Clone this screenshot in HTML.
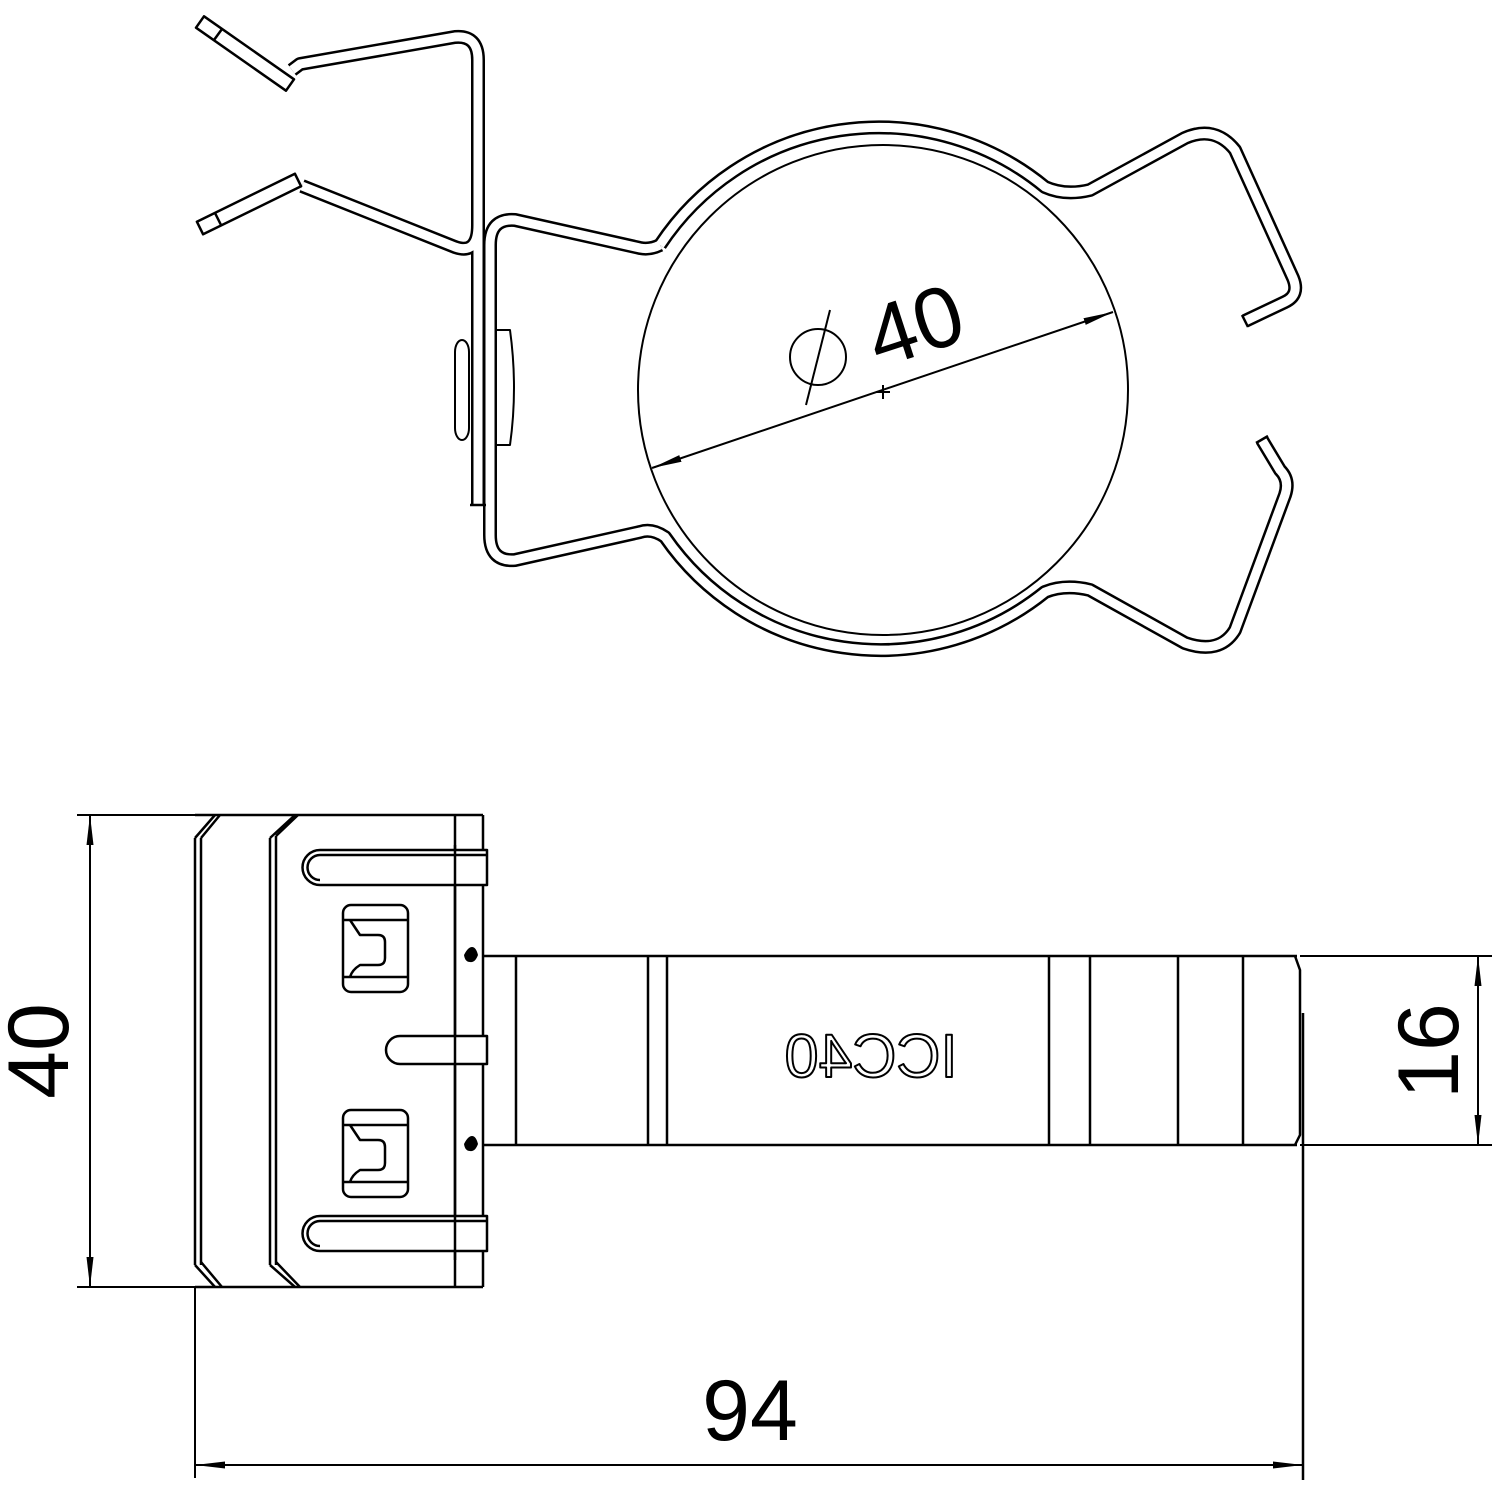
<!DOCTYPE html>
<html><head><meta charset="utf-8"><style>html,body{margin:0;padding:0;background:#fff}svg{display:block}</style></head>
<body>
<svg width="1500" height="1500" viewBox="0 0 1500 1500" xmlns="http://www.w3.org/2000/svg" font-family="Liberation Sans, sans-serif">
<defs>
<marker id="ar" viewBox="0 0 30 10" refX="30" refY="5" markerWidth="30" markerHeight="10" markerUnits="userSpaceOnUse" orient="auto-start-reverse"><path d="M0,1.5 L30,5 L0,8.5Z" fill="#000"/></marker>
</defs>
<g fill="none" stroke-linejoin="round">
<path id="band" d="M660,245 A262,262 0 0 1 1045,187 Q1065,196 1090,190 L1185,138 Q1215,125 1235,150 L1293,278 Q1300,295 1285,302 L1245,321"/>
<path id="band2" d="M660,245 Q650,250 640,248 L515,220 Q490,218 490,245 L490,535 Q490,562 515,560 L640,532 Q652,528 665,537 A262,262 0 0 0 1045,592 Q1065,584 1090,590 L1185,643 Q1220,655 1235,630 L1285,495 Q1290,480 1280,470 L1262,440"/>
<path id="arm1" d="M478,505 L478,60 Q478,35 455,37 L300,64 L292,70"/>
<path id="arm2" d="M478,225 Q478,255 455,247 L302,186"/>
<g stroke="#000" stroke-width="14"><use href="#band"/><use href="#band2"/><use href="#arm1"/><use href="#arm2"/></g>
<g stroke="#fff" stroke-width="9"><use href="#band"/><use href="#band2"/><use href="#arm1"/><use href="#arm2"/></g>
<g stroke="#000" stroke-width="2.5">
<polygon points="204,16.3 294,79.3 286,90.7 196,27.7" fill="#fff"/>
<line x1="214" y1="40" x2="222" y2="29"/>
<polygon points="196.9,221.7 294.9,173.7 301.1,186.3 203.1,234.3" fill="#fff"/>
<line x1="215" y1="213" x2="221" y2="225"/>
<line x1="1242" y1="315" x2="1248" y2="327"/>
<line x1="1256" y1="443" x2="1268" y2="436"/>
<line x1="470" y1="505" x2="486" y2="505"/>
</g>
<g stroke="#000" stroke-width="2">
<rect x="455" y="340" width="14" height="100" rx="12" fill="#fff"/>
<path d="M497,330 L510,330 Q518,388 510,445 L497,445"/>
<circle cx="883" cy="390" r="245"/>
<line x1="652" y1="468" x2="1113" y2="312" marker-start="url(#ar)" marker-end="url(#ar)"/>
<line x1="876" y1="392" x2="890" y2="392"/><line x1="883" y1="385" x2="883" y2="399"/>
<circle cx="818" cy="357" r="28"/><line x1="806" y1="405" x2="830" y2="310"/>
</g>
<text x="915" y="355" font-size="86" fill="#000" stroke="none" transform="rotate(-18 915 325)" text-anchor="middle">40</text>

<g stroke="#000" stroke-width="2.5">
<line x1="195" y1="815" x2="483" y2="815"/><line x1="195" y1="1287" x2="483" y2="1287"/>
<line x1="483" y1="815" x2="483" y2="1287"/><line x1="455" y1="815" x2="455" y2="1287"/>
<line x1="195" y1="838" x2="195" y2="1265"/><line x1="201" y1="838" x2="201" y2="1265"/>
<path d="M195,838 L215,815 M201,838 L220,815 M195,1265 L215,1287 M201,1262 L222,1287"/>
<line x1="270" y1="838" x2="270" y2="1265"/><line x1="276" y1="836" x2="276" y2="1265"/>
<path d="M270,838 L295,815 M276,836 L298,815 M270,1265 L295,1287 M276,1262 L300,1287"/>
<path d="M487,850 L320,850 A17,17 0 0 0 320,885 L487,885 Z" fill="#fff"/>
<path d="M487,855 L320,855 A12,12 0 0 0 320,880"/>
<path d="M487,1036 L400,1036 A14,14 0 0 0 400,1064 L487,1064 Z" fill="#fff"/>
<path d="M487,1216 L320,1216 A17,17 0 0 0 320,1251 L487,1251 Z" fill="#fff"/>
<path d="M487,1221 L320,1221 A12,12 0 0 0 320,1246"/>
<line x1="455" y1="845" x2="455" y2="1260"/>
<rect x="343" y="905" width="65" height="87" rx="8" fill="#fff"/>
<path d="M343,920 L408,920 M343,977 L408,977 M350,920 Q360,935 360,935 L378,935 Q385,935 385,942 L385,958 Q385,965 378,965 L360,965 Q352,970 350,977"/>
<rect x="343" y="1110" width="65" height="87" rx="8" fill="#fff"/>
<path d="M343,1125 L408,1125 M343,1182 L408,1182 M350,1125 Q360,1140 360,1140 L378,1140 Q385,1140 385,1147 L385,1163 Q385,1170 378,1170 L360,1170 Q352,1175 350,1182"/>
<line x1="483" y1="956" x2="1297" y2="956"/><line x1="483" y1="1145" x2="1297" y2="1145"/>
<path d="M1295,956 L1300,970 L1300,1135 L1295,1145"/>
<line x1="1303" y1="1013" x2="1303" y2="1480"/>
<line x1="516" y1="956" x2="516" y2="1145"/><line x1="648" y1="956" x2="648" y2="1145"/><line x1="667" y1="956" x2="667" y2="1145"/>
<line x1="1049" y1="956" x2="1049" y2="1145"/><line x1="1090" y1="956" x2="1090" y2="1145"/><line x1="1178" y1="956" x2="1178" y2="1145"/><line x1="1243" y1="956" x2="1243" y2="1145"/>
</g>
<g fill="#000"><path d="M464,955 Q468,947 472,947 Q476,947 478,955 Q475,963 470,962 Q465,962 464,955Z"/><path d="M464,1144 Q468,1136 472,1136 Q476,1136 478,1144 Q475,1152 470,1151 Q465,1151 464,1144Z"/></g>
<text x="-871" y="1077" font-size="61" fill="#fff" stroke="#000" stroke-width="2" text-anchor="middle" transform="scale(-1,1)">ICC40</text>

<g stroke="#000" stroke-width="2">
<line x1="77" y1="815" x2="195" y2="815"/><line x1="77" y1="1287" x2="195" y2="1287"/>
<line x1="90" y1="815" x2="90" y2="1287" marker-start="url(#ar)" marker-end="url(#ar)"/>
<line x1="1300" y1="956" x2="1492" y2="956"/><line x1="1300" y1="1145" x2="1492" y2="1145"/>
<line x1="1478" y1="956" x2="1478" y2="1145" marker-start="url(#ar)" marker-end="url(#ar)"/>
<line x1="195" y1="1287" x2="195" y2="1478"/>
<line x1="195" y1="1465" x2="1303" y2="1465" marker-start="url(#ar)" marker-end="url(#ar)"/>
</g>
</g>
<text x="68" y="1051" font-size="86" text-anchor="middle" transform="rotate(-90 68 1051)">40</text>
<text x="1458" y="1051" font-size="86" text-anchor="middle" transform="rotate(-90 1458 1051)">16</text>
<text x="750" y="1440" font-size="86" text-anchor="middle">94</text>
</svg>
</body></html>
